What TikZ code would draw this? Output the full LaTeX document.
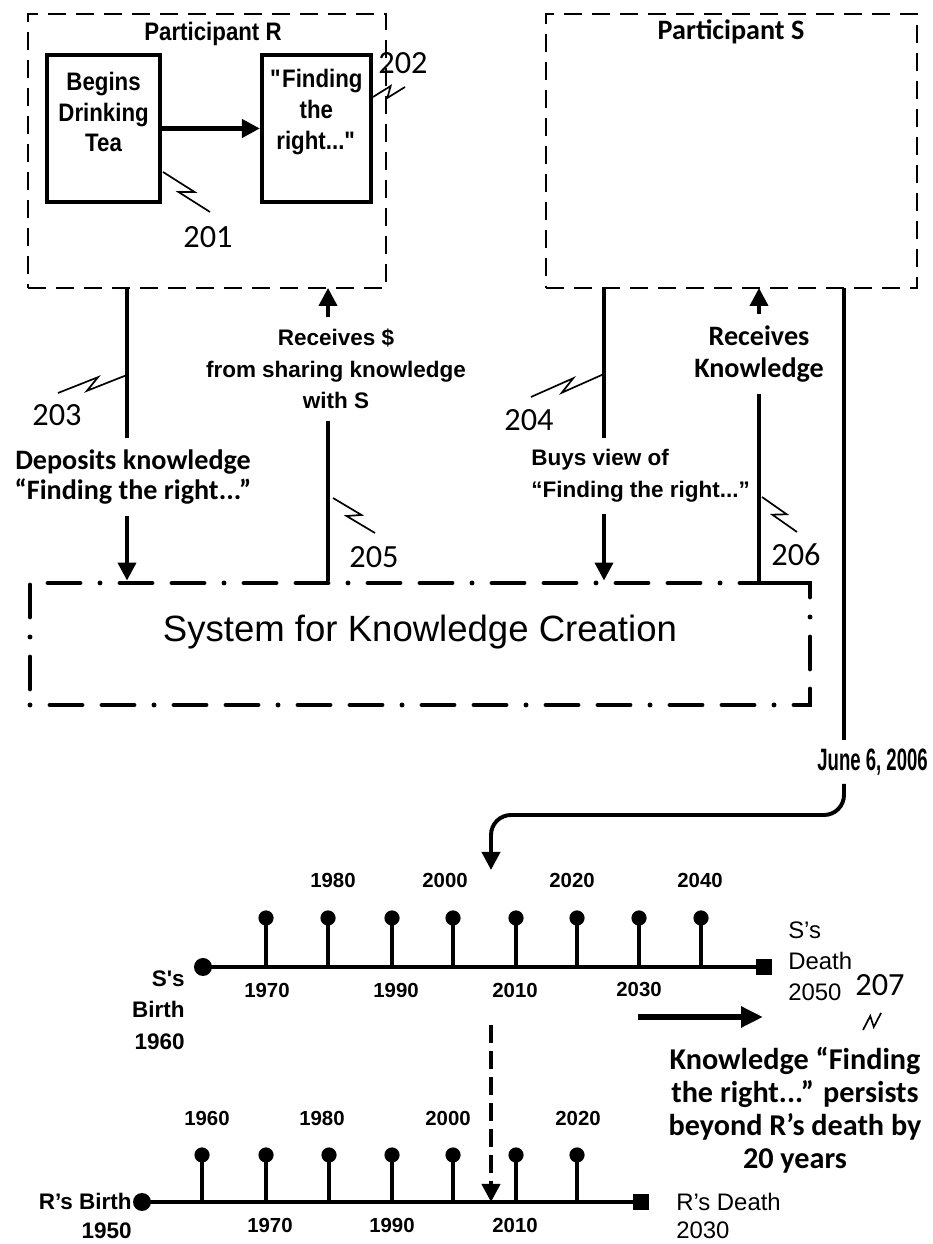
\documentclass[tikz,border=0pt]{standalone}
\usepackage{fontspec}
\setmainfont{Liberation Sans}
\newfontfamily\humfont{Carlito}
\newfontfamily\narrowfont[FakeStretch=0.6]{Liberation Sans}
\newfontfamily\tallfont[FakeStretch=0.88]{Liberation Sans}
\usetikzlibrary{arrows.meta,calc,positioning}

\tikzset{
  partbox/.style={draw, line width=2pt, dash pattern=on 0.45cm off 0.25cm, inner sep=0pt},
  stepbox/.style={draw, line width=3pt, inner sep=0pt, minimum height=3.675cm},
  sysbox/.style={draw, line width=3.5pt, line cap=round, dash pattern=on 0pt off 0.5cm on 0.8cm off 0.5cm on 0.8cm off 0.5cm, inner sep=0pt},
  conn/.style={line width=2.8pt},
  arr/.style={-{Triangle[length=0.45cm,width=0.45cm]}},
  leader/.style={line width=1.2pt},
  boxtext/.style={font=\tallfont\fontsize{18}{22}\selectfont\bfseries, align=center, inner sep=0pt},
  arialbl/.style={font=\fontsize{16}{22.5}\selectfont\bfseries, align=center, inner ysep=8pt},
  humlbl/.style={font=\humfont\fontsize{20}{21.5}\selectfont\bfseries, align=center, inner ysep=8pt},
  refnum/.style={font=\humfont\fontsize{23}{26}\selectfont, inner sep=0pt},
  tline/.style={line width=3.5pt},
  stem/.style={line width=2.2pt},
  pinhead/.style={circle, fill, inner sep=0pt, minimum size=0.38cm},
  bdot/.style={circle, fill, inner sep=0pt, minimum size=0.45cm},
  dsq/.style={rectangle, fill, inner sep=0pt, minimum size=0.4cm},
  yearlbl/.style={font=\fontsize{14.5}{17}\selectfont\bfseries, inner sep=0pt},
  lifelbl/.style={font=\fontsize{16}{22.5}\selectfont\bfseries, inner sep=0pt},
  deathlbl/.style={font=\fontsize{17}{22}\selectfont, inner sep=0pt, anchor=west, align=left},
}

% lead line with a kink, from #1 to #2
\newcommand{\leadline}[2]{\draw[leader] (#1) -- ($(#1)!0.6!(#2)!1.3mm!90:(#2)$) -- ($(#1)!0.4!(#2)!1.3mm!-90:(#2)$) -- (#2);}

\begin{document}
\begin{tikzpicture}%
\useasboundingbox (0,0) rectangle (23.3,31.1);%
% participant R
\node[partbox, minimum width=8.95cm, minimum height=6.85cm] (rbox) at (5.175,27.325) {};%
\node[font=\tallfont\fontsize{18}{20}\selectfont\bfseries] (rname) at (5.325,30.25) {Participant R};%
\node[stepbox, minimum width=2.825cm] (begins) at (2.5875,27.8875) {};%
\node[boxtext] (beginstxt) at (2.59,28.3) {Begins\\Drinking\\Tea};%
\node[stepbox, minimum width=2.725cm] (finding) at (7.9125,27.8875) {};%
\node[boxtext] (findingtxt) at (7.91,28.3) {\textquotedbl Finding\\the\\right...\textquotedbl};%
\draw[conn, line width=3pt, arr] (begins.east) -- (finding.west);%
% participant S
\node[partbox, minimum width=9.275cm, minimum height=6.85cm] (sbox) at (18.2875,27.325) {};%
\node[font=\humfont\fontsize{20}{22}\selectfont\bfseries] (sname) at (18.275,30.3) {Participant S};%
% system
\node[sysbox, minimum width=19.5cm, minimum height=3.05cm] (sys) at (10.5,15.0) {};%
\node[font=\fontsize{26}{30}\selectfont] (systxt) at (10.5,15.3) {System for Knowledge Creation};%
% labels on the connectors
\node[humlbl] (dep) at (3.325,19.175) {Deposits knowledge\\“Finding the right...”};%
\node[arialbl] (rec1) at (8.4,21.875) {Receives \$\\from sharing knowledge\\with S};%
\node[arialbl, anchor=west, align=left, inner xsep=0pt] (buys) at (13.275,19.2) {Buys view of\\“Finding the right...”};%
\node[humlbl, font=\humfont\fontsize{20}{23}\selectfont\bfseries] (rec2) at (18.975,22.25) {Receives\\Knowledge};%
\coordinate (c203) at (3.175,23.9);%
\coordinate (c205) at (8.2,23.9);%
\coordinate (c204) at (15.1,23.9);%
\coordinate (c206) at (18.975,23.9);%
\coordinate (c206end) at (19.925,16.525);%
\draw[conn] (c203) -- (c203 |- dep.north);%
\draw[conn, arr] (c203 |- dep.south) -- (c203 |- sys.north);%
\draw[conn, arr] (c205 |- rec1.north) -- (c205);%
\draw[conn] (c205 |- rec1.south) -- (c205 |- sys.north);%
\draw[conn] (c204) -- (c204 |- buys.north);%
\draw[conn, arr] (c204 |- buys.south) -- (c204 |- sys.north);%
\draw[conn, arr] (c206 |- rec2.north) -- (c206);%
\draw[conn] (c206 |- rec2.south) |- (c206end);%
% date of purchase
\node[font=\narrowfont\fontsize{22}{26}\selectfont\bfseries, anchor=east, inner xsep=0pt, inner ysep=6pt] (june) at (23.2,12.05) {June 6, 2006};%
\coordinate (cjune) at (21.1,23.9);%
\coordinate (bend) at (12.275,10.725);%
\coordinate (tip2006) at (12.275,9.35);%
\draw[conn] (cjune) -- (cjune |- june.north);%
\draw[conn, arr, rounded corners=0.5cm] (cjune |- june.south) |- (bend) -- (tip2006);%
% life of S
\node[bdot] (sbirth) at (5.075,6.925) {};%
\node[dsq] (sdeath) at (19.1,6.925) {};%
\draw[tline] (sbirth.center) -- (sdeath.center);%
\foreach \x [count=\i] in {6.65,8.2,9.8,11.325,12.9,14.425,15.975,17.525}{%
  \node[pinhead] (sp\i) at (\x,8.15) {};%
  \draw[stem] (sp\i.center) -- (\x,6.925);%
}%
\foreach \x/\yr in {8.325/1980,11.125/2000,14.3/2020,17.5/2040}{\node[yearlbl] (sy\yr) at (\x,9.1) {\yr};}%
\foreach \x/\yr in {6.675/1970,9.9/1990,12.875/2010,15.975/2030}{\node[yearlbl] (sy\yr) at (\x,6.35) {\yr};}%
\node[lifelbl, anchor=east, align=right] (sbirthlbl) at (4.625,5.85) {S\textquotesingle s\\Birth\\1960};%
\node[deathlbl] (sdeathlbl) at (19.7,7.075) {S’s\\Death\\2050};%
% life of R
\node[bdot] (rbirth) at (3.55,1.05) {};%
\node[dsq] (rdeath) at (16.025,1.05) {};%
\draw[tline] (rbirth.center) -- (rdeath.center);%
\foreach \x [count=\i] in {5.05,6.65,8.225,9.8,11.325,12.9,14.425}{%
  \node[pinhead] (rp\i) at (\x,2.225) {};%
  \draw[stem] (rp\i.center) -- (\x,1.05);%
}%
\foreach \x/\yr in {5.175/1960,8.05/1980,11.2/2000,14.45/2020}{\node[yearlbl] (ry\yr) at (\x,3.15) {\yr};}%
\foreach \x/\yr in {6.75/1970,9.8/1990,12.875/2010}{\node[yearlbl] (ry\yr) at (\x,0.475) {\yr};}%
\node[lifelbl, anchor=east, align=right, font=\fontsize{16}{20}\selectfont\bfseries] (rbirthlbl) at (3.3,0.7) {R’s Birth\\1950};%
\node[deathlbl, font=\fontsize{17}{20}\selectfont] (rdeathlbl) at (16.9,0.7) {R’s Death\\2030};%
% knowledge outlives R
\coordinate (dstart) at (12.275,5.475);%
\coordinate (r2006) at (12.275,1.05);%
\draw[conn, dash pattern=on 0.45cm off 0.2cm, arr] (dstart) -- (r2006);%
\coordinate (pa0) at (15.95,5.675);%
\coordinate (pa1) at (19.075,5.675);%
\draw[conn, line width=4pt, -{Triangle[length=0.55cm,width=0.5cm]}] (pa0) -- (pa1);%
\node[font=\humfont\fontsize{21.5}{23.5}\selectfont\bfseries, align=center] (persist) at (19.875,3.35) {Knowledge “Finding\\the right...” persists\\beyond R’s death by\\20 years};%
% reference numerals
\node[refnum] (n201) at (5.2,25.175) {201};%
\node[refnum] (n202) at (10.075,29.525) {202};%
\node[refnum] (n203) at (1.425,20.725) {203};%
\node[refnum] (n204) at (13.225,20.6) {204};%
\node[refnum] (n205) at (9.35,17.175) {205};%
\node[refnum] (n206) at (19.9,17.225) {206};%
\node[refnum] (n207) at (22.0,6.475) {207};%
\coordinate (l201a) at (4.075,26.8);\coordinate (l201b) at (5.25,25.8);%
\coordinate (l202a) at (9.325,28.675);\coordinate (l202b) at (10.125,28.925);%
\coordinate (l203a) at (3.175,21.725);\coordinate (l203b) at (1.45,21.275);%
\coordinate (l204a) at (15.1,21.75);\coordinate (l204b) at (13.275,21.175);%
\coordinate (l205a) at (8.325,18.65);\coordinate (l205b) at (9.375,17.775);%
\coordinate (l206a) at (19.05,18.675);\coordinate (l206b) at (19.925,17.8);%
\coordinate (l207a) at (21.575,5.35);\coordinate (l207b) at (22.025,5.775);%
\leadline{l201a}{l201b}%
\leadline{l202a}{l202b}%
\leadline{l203a}{l203b}%
\leadline{l204a}{l204b}%
\leadline{l205a}{l205b}%
\leadline{l206a}{l206b}%
\leadline{l207a}{l207b}%
\end{tikzpicture}
\end{document}
